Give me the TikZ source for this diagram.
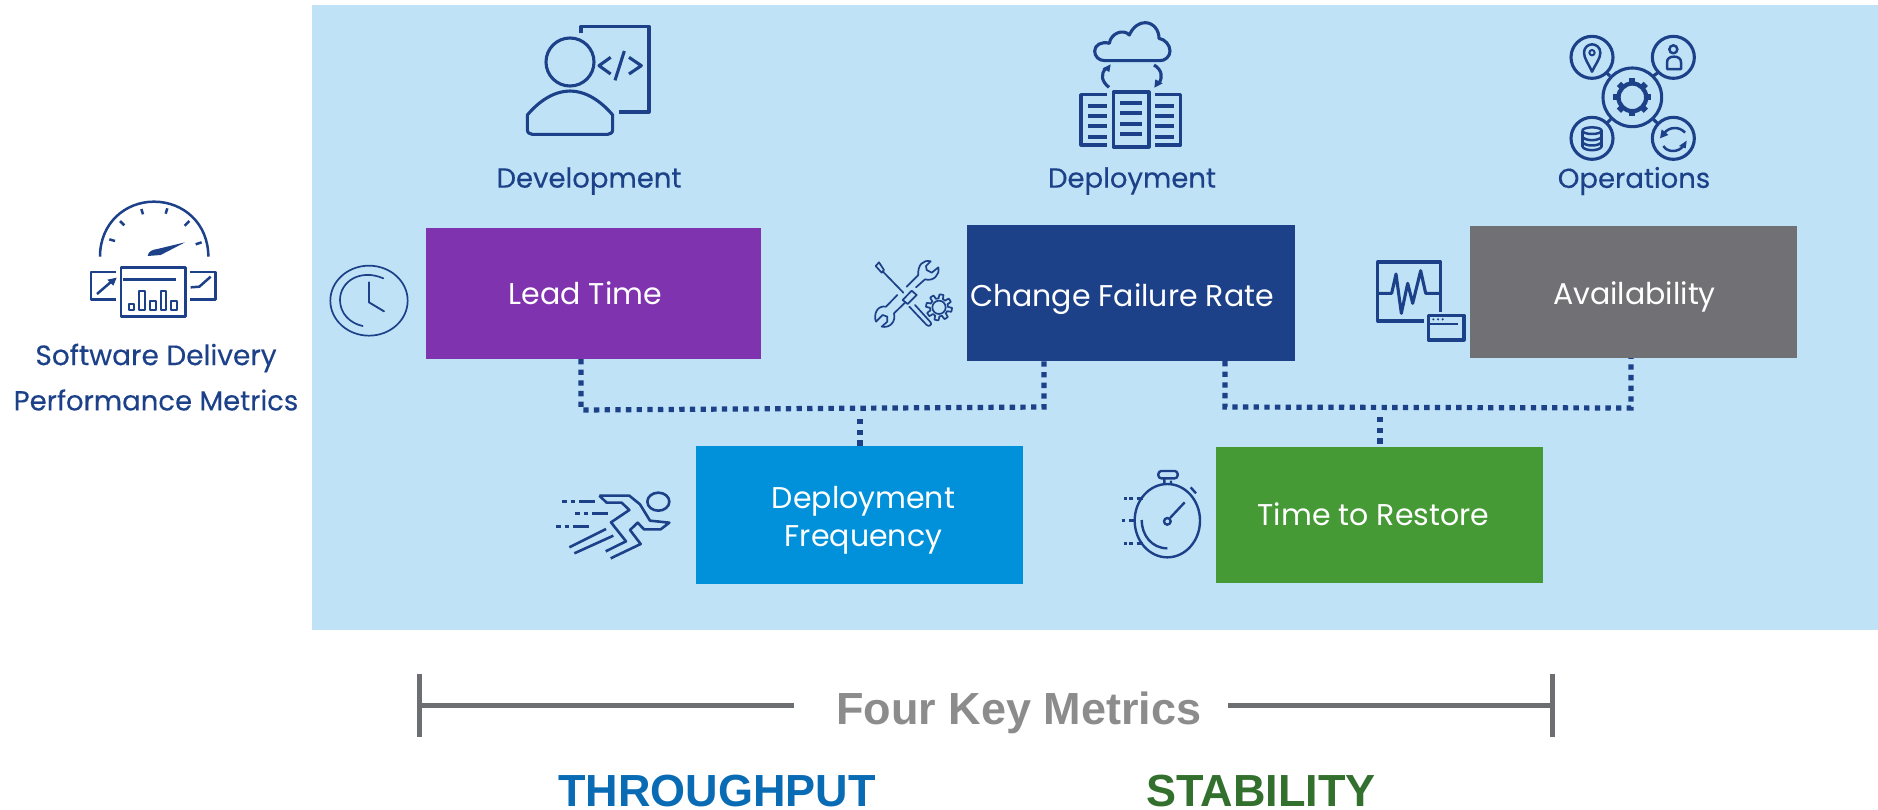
\documentclass[tikz,border=0pt]{standalone}
\usepackage{fontspec}
\setmainfont{Poppins}
\newfontfamily\areafont{Poppins}[FakeBold=0.3]
\newfontfamily\headfont{Liberation Sans}
\definecolor{panel}{HTML}{BFE2F6}
\definecolor{navy}{HTML}{1C4189}
\definecolor{purplebox}{HTML}{7F33AE}
\definecolor{graybox}{HTML}{717074}
\definecolor{skybox}{HTML}{0091DA}
\definecolor{greenbox}{HTML}{459A36}
\definecolor{barline}{HTML}{6D6E71}
\definecolor{keytext}{HTML}{8C8C8C}
\definecolor{thruput}{HTML}{0A6BB5}
\definecolor{stab}{HTML}{33702E}
\tikzset{
  zoomat/.style 2 args={xshift=#1pt,yshift=-#2pt,x=0.33333pt,y=-0.33333pt},
  icon/.style={draw=navy,line width=3.1pt,line join=round},
  thinicon/.style={draw=navy,line width=1.7pt,line join=round,line cap=round},
  bar/.style={draw=navy,line width=3.6pt},
  metric/.style={inner sep=0pt,outer sep=0pt,text=white,font=\fontsize{30}{38}\selectfont,align=center},
  area/.style={inner sep=0pt,text=navy,font=\areafont\fontsize{27.5}{33}\selectfont},
  dotline/.style={draw=navy,line width=5.2pt,dash pattern=on 5.33pt off 5.33pt},
  bracket/.style={draw=barline,line width=5pt},
  bighead/.style={inner sep=0pt,font=\headfont\bfseries\fontsize{45}{50}\selectfont}
}
\begin{document}
\begin{tikzpicture}[x=1pt,y=-1pt]
\useasboundingbox (0,0) rectangle (1878,809);
\fill[white] (0,0) rectangle (1878,809);
\fill[panel] (312,5) rectangle (1878,630);

% metric boxes
\node[metric,fill=purplebox,minimum width=335pt,minimum height=131pt,text height=21pt,text depth=0pt] (lead) at (593.5,293.5) {\kern-16pt Lead Time};
\node[metric,fill=navy,minimum width=328pt,minimum height=136pt,text height=26pt,text depth=0pt] (cfr) at (1131,293) {\kern-18pt Change Failure Rate};
\node[metric,fill=graybox,minimum width=327pt,minimum height=132pt,text height=25pt,text depth=0pt] (avail) at (1633.5,292) {\kern2pt Availability};
\node[metric,fill=skybox,minimum width=327pt,minimum height=138pt] (freq) at (859.5,515) {\kern8pt\rule{0pt}{32pt}Deployment\\\kern8pt Frequency};
\node[metric,fill=greenbox,minimum width=327pt,minimum height=136pt,text height=20pt,text depth=0pt] (restore) at (1379.5,515) {\kern-12pt Time to Restore};

% connectors
\coordinate (ja) at (581,410);
\coordinate (jb) at (1044,407);
\coordinate (jc) at (1225,407);
\coordinate (jd) at (1631,408);
\coordinate (je) at (860,419);
\coordinate (jf) at (1380,417);
\draw[dotline] (ja |- lead.south) -- (ja) -- (jb) -- (jb |- cfr.south);
\draw[dotline] (je) -- (je |- freq.north);
\draw[dotline] (jc |- cfr.south) -- (jc) -- (jd) -- (jd |- avail.south);
\draw[dotline] (jf) -- (jf |- restore.north);

% labels
\node[area] (dev) at (589,181) {Development};
\node[area] (dep) at (1132,181) {Deployment};
\node[area] (ops) at (1634,181) {Operations};
\node[area,font=\areafont\fontsize{28}{33}\selectfont] (sd) at (156,358) {Software Delivery};
\node[area] (pm) at (156,400) {Performance Metrics};

% bottom
\node[bighead,text=keytext] (four) at (1019,713) {Four Key Metrics};
\coordinate (bl) at (419,705);
\coordinate (br) at (1552,705);
\coordinate (bm) at (794,705);
\coordinate (bn) at (1228,705);
\draw[bracket] (bl) -- (bm);
\draw[bracket] (bn) -- (br);
\draw[bracket] ([yshift=31pt]bl) -- ([yshift=-32pt]bl);
\draw[bracket] ([yshift=31pt]br) -- ([yshift=-32pt]br);
\node[bighead,text=thruput] (tp) at (717,791) {THROUGHPUT};
\node[bighead,text=stab] (st) at (1261,791) {STABILITY};

% gauge icon
\begin{scope}[zoomat={0}{180},icon/.append style={line width=2.5pt}]
\draw[icon] (300,230) .. controls (300,130) and (375,65) .. (462,65) .. controls (550,65) and (625,130) .. (625,230);
\draw[icon] (328,178)--(345,183) (360,123)--(373,136) (424,87)--(429,103) (502,85)--(497,101) (568,123)--(554,137) (605,187)--(587,193);
\fill[navy] (443,228) .. controls (445,212) and (460,209) .. (472,207) -- (555,187) -- (482,225) -- cycle;
\draw[icon] (363,262) rectangle (557,409);
\draw[bar,line width=3.6pt] (368,299) -- (528,299);
\draw[icon,line width=2.1pt] (387,372) rectangle (402,389) (418,332) rectangle (434,389) (450,362) rectangle (468,389) (482,332) rectangle (498,389) (513,362) rectangle (530,389);
\draw[icon] (347,276)--(273,276)--(273,359)--(347,359);
\draw[icon] (571,276)--(647,276)--(647,359)--(571,359);
\draw[icon] (291,342)--(335,304);
\fill[navy] (350,293)--(322,299)--(340,317)--cycle;
\draw[icon] (572,322)--(598,320)--(632,290);
\end{scope}

% development icon
\begin{scope}[zoomat={500}{0}]
\draw[icon] (210,186) circle[radius=72];
\draw[icon] (82,345) .. controls (120,300) and (165,273) .. (210,273) .. controls (255,273) and (300,300) .. (338,345) -- (338,388) .. controls (338,398) and (332,403) .. (323,403) -- (97,403) .. controls (88,403) and (82,398) .. (82,388) -- cycle;
\draw[icon] (243,100)--(243,79)--(447,79)--(447,336)--(357,336);
\draw[icon] (332,172)--(297,197)--(332,222) (387,172)--(424,197)--(387,222) (373,153)--(345,241);
\end{scope}

% deployment icon
\begin{scope}[zoomat={1060}{0}]
\draw[icon] (135,182) .. controls (115,182) and (104,168) .. (104,153) .. controls (104,135) and (125,123) .. (148,130) .. controls (152,100) and (190,85) .. (208,105) .. controls (220,78) and (240,68) .. (255,68) .. controls (280,68) and (297,90) .. (297,115) .. controls (315,118) and (330,135) .. (330,153) .. controls (330,170) and (315,182) .. (300,182) -- cycle;
\draw[icon] (147,262) .. controls (125,245) and (120,222) .. (138,205);
\fill[navy] (152,193)--(128,205)--(148,216)--cycle;
\draw[icon] (282,195) .. controls (305,208) and (310,232) .. (296,250);
\fill[navy] (283,263)--(286,238)--(308,250)--cycle;
\draw[icon] (160,276) rectangle (267,441);
\draw[icon] (141,284)--(63,284)--(63,435)--(141,435);
\draw[icon] (285,284)--(362,284)--(362,435)--(285,435);
\foreach \yy in {309,339,372,402} \draw[bar] (180,\yy)--(246,\yy);
\foreach \yy in {318,348,378,411} {\draw[bar] (84,\yy)--(141,\yy); \draw[bar] (285,\yy)--(342,\yy);}
\end{scope}

% operations icon
\begin{scope}[zoomat={1520}{20}]
\draw[icon] (337,232) circle[radius=88];
\foreach \cx/\cy in {216/112,460/112,216/355,460/355} \draw[icon] (\cx,\cy) circle[radius=63];
\draw[icon] (258,157)--(270,168) (415,157)--(400,168) (258,312)--(272,298) (400,298)--(415,312);
\draw[navy,line width=4.3pt] (337,232) circle[radius=41.5];
\foreach \a in {0,45,...,315} \draw[navy,line width=6pt] ({337+41*cos(\a)},{232+41*sin(\a)}) -- ({337+57*cos(\a)},{232+57*sin(\a)});
\draw[icon,line width=2.5pt] (216,155) .. controls (205,130) and (192,115) .. (192,98) .. controls (192,82) and (205,73) .. (216,73) .. controls (228,73) and (241,82) .. (241,98) .. controls (241,115) and (228,130) .. (216,155) -- cycle;
\draw[icon,line width=2pt] (216,98) circle[radius=8];
\draw[icon,line width=2.5pt] (460,88) circle[radius=12];
\draw[icon,line width=2.5pt] (441,147)--(441,127) .. controls (441,115) and (450,110) .. (462,110) .. controls (474,110) and (483,115) .. (483,127) -- (483,147) -- cycle;
\draw[icon,line width=2.5pt] (216,332) circle[x radius=29,y radius=10];
\draw[icon,line width=2.5pt] (187,332)--(187,380) (245,332)--(245,380);
\draw[icon,line width=2.5pt] (187,350) .. controls (195,364) and (237,364) .. (245,350);
\draw[icon,line width=2.5pt] (187,366) .. controls (195,380) and (237,380) .. (245,366);
\draw[icon,line width=2.5pt] (187,380) .. controls (195,394) and (237,394) .. (245,380);
\draw[icon,line width=2.5pt] (432,340) .. controls (447,320) and (478,318) .. (495,338);
\fill[navy] (420,355)--(425,328)--(445,345)--cycle;
\draw[icon,line width=2.5pt] (490,378) .. controls (475,398) and (442,398) .. (430,378);
\fill[navy] (500,362)--(477,378)--(497,385)--cycle;
\end{scope}

% clock icon
\begin{scope}[zoomat={320}{250}]
\draw[thinicon] (147,152) circle[x radius=116,y radius=105];
\draw[thinicon] (190,85) .. controls (120,55) and (60,95) .. (60,150) .. controls (60,190) and (90,220) .. (128,228);
\draw[thinicon,line width=1.9pt] (147,97)--(147,157)--(192,184);
\end{scope}

% tools icon
\begin{scope}[zoomat={860}{250}]
\draw[thinicon] (47,48)--(57,37)--(72,60)--(65,68)--cycle (68,64)--(130,128);
\draw[thinicon] (148,170)--(200,225) .. controls (207,231) and (217,225) .. (212,217) -- (165,165);
\draw[thinicon] (212,34) .. controls (190,28) and (172,45) .. (175,75) -- (140,110) (168,112) -- (195,88) .. controls (220,95) and (240,75) .. (235,52) -- (215,68) -- (200,60) -- (198,48) -- (212,34);
\draw[thinicon] (112,135) -- (78,170) .. controls (50,165) and (40,195) .. (48,215) -- (68,195) -- (82,200) -- (82,215) -- (65,230) .. controls (90,235) and (108,215) .. (102,190) -- (135,158);
\draw[thinicon] (128,150)--(155,122)--(170,135)--(143,162)--cycle;
\draw[thinicon] plot[samples=145,domain=0:360] ({237+(33+6*sign(sin(8*\x)))*cos(\x)},{172+(33+6*sign(sin(8*\x)))*sin(\x)}) -- cycle;
\draw[thinicon] (237,172) circle[radius=20];
\end{scope}

% monitor icon
\begin{scope}[zoomat={1360}{250}]
\draw[icon] (193,213)--(53,213)--(53,36)--(242,36)--(242,185);
\draw[icon] (55,130)--(95,130)--(108,72)--(124,190)--(143,100)--(158,160)--(182,62)--(197,130)--(242,130);
\draw[icon] (205,196) rectangle (312,270);
\draw[icon,line width=2pt] (210,221)--(295,221);
\foreach \xx in {220,234,248} \fill[navy] (\xx,208) circle[radius=3.5];
\end{scope}

% runner icon
\begin{scope}[zoomat={540}{470}]
\foreach \yy/\xa in {94/66,130/105,169/48} {
  \draw[bar,line width=3pt] (\xa,\yy)--++(15,0);
  \draw[bar,line width=3pt] ({\xa+26},\yy)--++(13,0);
  \draw[bar,line width=3pt] ({\xa+51},\yy)--++(48,0);
}
\draw[icon,line width=2.6pt] (178,77)--(268,77)--(300,103)--(330,152)--(388,158)--(362,178)--(312,178)--(293,158)--(270,180)--(302,222)--(212,265);
\draw[icon,line width=2.6pt] (178,77)--(200,98)--(245,98)--(268,120)--(213,157)--(258,214)--(197,244);
\draw[icon,line width=2.6pt] (355,95) circle[x radius=33,y radius=27];
\draw[icon,line width=2.6pt] (88,232)--(198,177) (103,250)--(220,197);
\end{scope}

% stopwatch icon
\begin{scope}[zoomat={1110}{460}]
\draw[icon,line width=2.4pt] (172,182) circle[x radius=98,y radius=110];
\draw[icon,line width=2.4pt,rounded corners=3pt] (145,33) rectangle (203,55);
\draw[icon,line width=2.4pt] (163,55)--(163,73) (183,62)--(183,73) (242,82)--(258,100) (180,174)--(224,127);
\draw[icon,line width=2.4pt] (172,184) circle[radius=10];
\draw[icon,line width=2.4pt] (95,180) .. controls (95,225) and (125,265) .. (172,265);
\foreach \yy in {115,250} {
  \draw[bar,line width=2.8pt] (42,\yy)--(51,\yy) (57,\yy)--(70,\yy);
  \draw[icon,line width=2.4pt] (80,\yy)--(98,\yy);
}
\draw[bar,line width=2.8pt] (36,181)--(46,181);
\draw[icon,line width=2.4pt] (57,181)--(75,181);
\end{scope}
\end{tikzpicture}
\end{document}
